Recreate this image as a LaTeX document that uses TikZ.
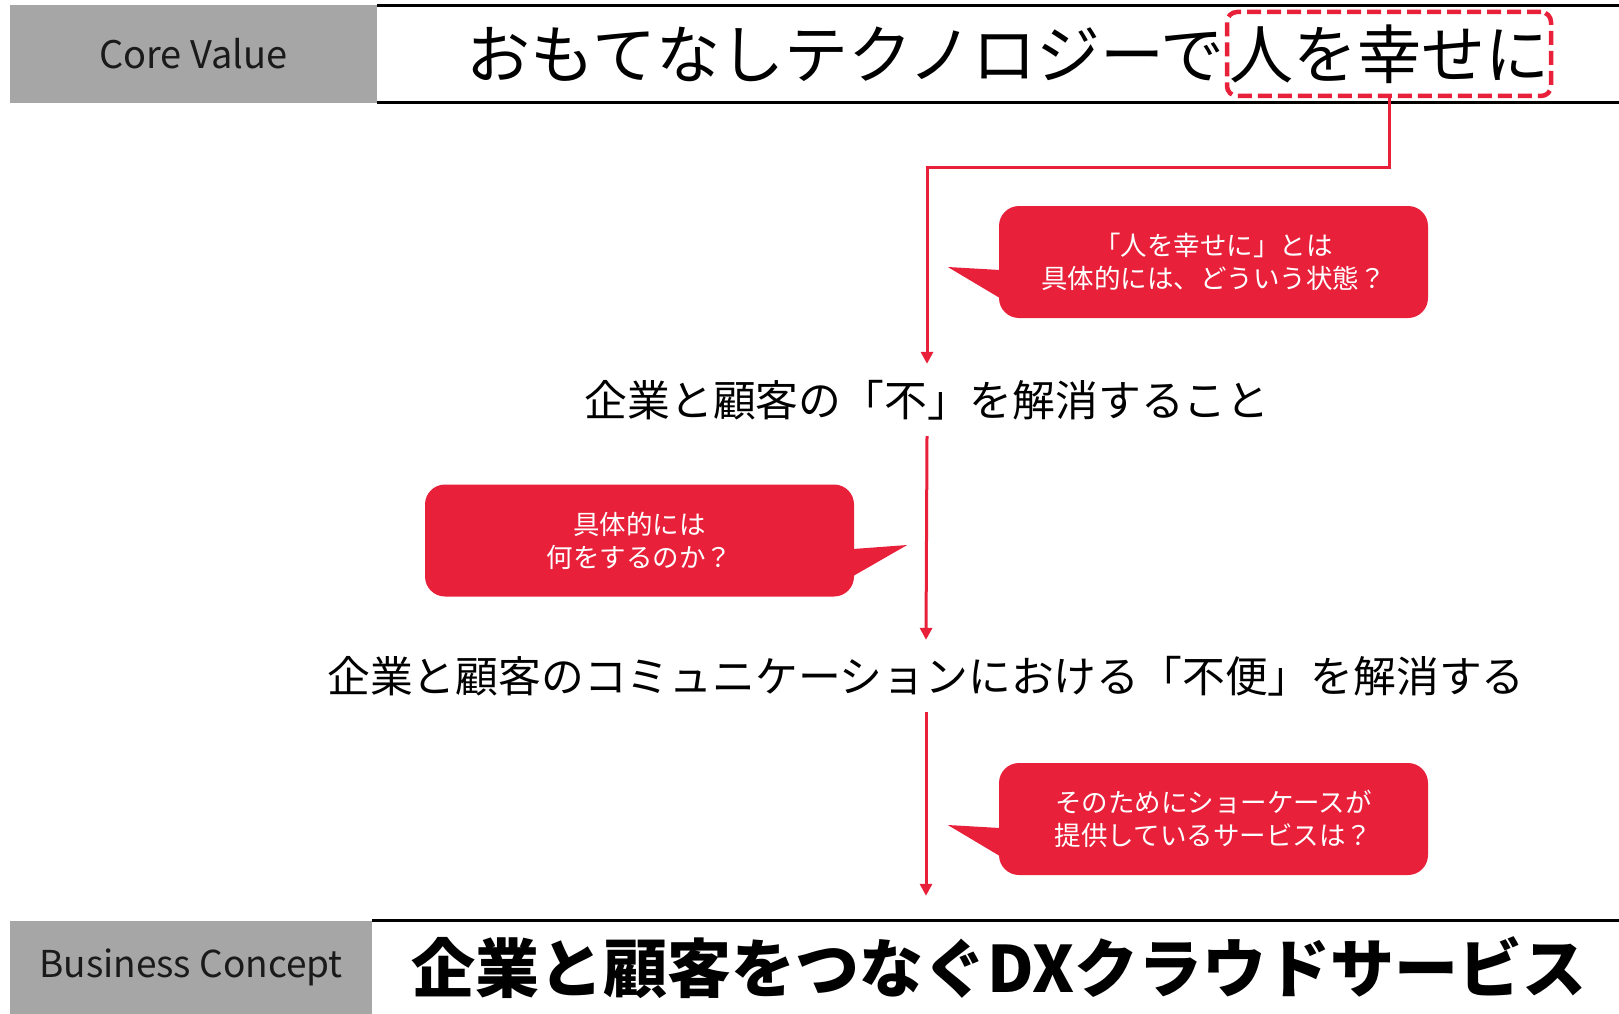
\documentclass[tikz,border=0pt]{standalone}
\usepackage{fontspec}
\setmainfont{Noto Sans CJK JP}
\usetikzlibrary{arrows.meta}
\definecolor{accent}{HTML}{E8203A}
\definecolor{labelgray}{HTML}{A6A6A6}
\definecolor{labeltext}{HTML}{1A1A1A}
\tikzset{
  graylabel/.style={fill=labelgray, text=labeltext, inner sep=0pt, font=\fontsize{38pt}{44pt}\selectfont},
  whitebar/.style={inner sep=0pt},
  barline/.style={draw=black, line width=3pt},
  bigtext/.style={inner sep=0pt, font=\fontsize{64pt}{70pt}\selectfont},
  midtext/.style={inner xsep=0pt, inner ysep=16pt, font=\fontsize{42.8pt}{48pt}\selectfont},
  flow/.style={draw=accent, line width=3pt, -{Triangle[length=12pt,width=12pt]}},
  callout/.style={fill=accent, rounded corners=20pt, minimum width=429pt, minimum height=112pt,
    text=white, align=center, inner sep=0pt, font=\fontsize{26.5pt}{33pt}\selectfont},
  focusbox/.style={draw=accent, line width=4.5pt, dash pattern=on 14pt off 6pt, rounded corners=10pt,
    minimum width=324pt, minimum height=84pt, inner sep=0pt, font=\fontsize{64pt}{70pt}\selectfont}
}
\begin{document}
\begin{tikzpicture}[x=1pt,y=-1pt]
\useasboundingbox (0,0) rectangle (1619,1014);
% top bar
\node[whitebar, minimum width=1242pt, minimum height=96pt] (cvbar) at (998,54) {};
\draw[barline] (cvbar.north west) -- (cvbar.north east);
\draw[barline] (cvbar.south west) -- (cvbar.south east);
\node[graylabel, minimum width=367pt, minimum height=98pt] (cvlabel) at (193.5,54) {Core Value};
\node[focusbox] (cvfocus) at (1389,54) {人を幸せに};
\node[bigtext, anchor=east] (cvmain) at (cvfocus.west) {おもてなしテクノロジーで};
% middle statements
\node[midtext] (t1) at (927,400) {企業と顧客の「不」を解消すること};
\node[midtext] (t2) at (926,676) {企業と顧客のコミュニケーションにおける「不便」を解消する};
% bottom bar
\node[whitebar, minimum width=1247pt, minimum height=93pt] (bcbar) at (995.5,967.5) {};
\draw[barline] (bcbar.north west) -- (bcbar.north east);
\node[graylabel, minimum width=362pt, minimum height=93pt, font=\fontsize{37pt}{43pt}\selectfont] (bclabel) at (191,967.5) {Business Concept};
\node[inner sep=0pt, font=\fontsize{64pt}{70pt}\selectfont\bfseries] (bcmain) at (999,968) {企業と顧客をつなぐDXクラウドサービス};
% connectors
\draw[flow] (cvfocus.south) -- ++(0,69) -| (t1.north);
\draw[flow] (t1.south) -- (t2.north);
\draw[flow, shorten >=25pt] (t2.south) -- (t2.south |- bcbar.north);
% callouts
\node[callout] (c1) at (1213.5,262) {「人を幸せに」とは\\具体的には、どういう状態？};
\fill[accent] (c1.west) ++(1,8) -- ++(-52,-3) -- ++(52,31) -- cycle;
\node[callout] (c2) at (639.5,540.5) {具体的には\\何をするのか？};
\fill[accent] (c2.east) ++(-1,8.5) -- ++(54,-4) -- ++(-54,31) -- cycle;
\node[callout] (c3) at (1213.5,819) {そのためにショーケースが\\提供しているサービスは？};
\fill[accent] (c3.west) ++(1,9) -- ++(-52,-3) -- ++(52,31) -- cycle;
\end{tikzpicture}
\end{document}
